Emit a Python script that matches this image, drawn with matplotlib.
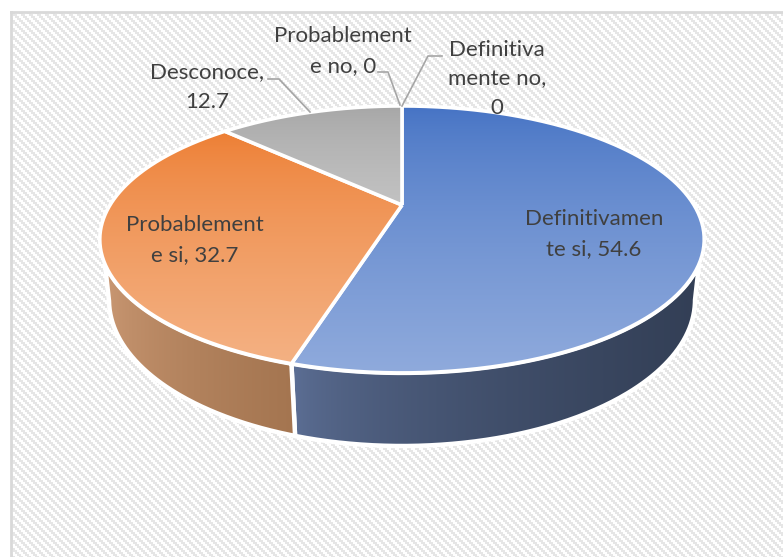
import matplotlib
matplotlib.use('Agg')
import matplotlib.pyplot as plt
import numpy as np
from matplotlib.patches import PathPatch
from matplotlib.path import Path
from matplotlib.colors import LinearSegmentedColormap

plt.rcParams['font.family'] = ['Lato', 'DejaVu Sans']

CATEGORIES = ['Definitivamente si', 'Probablemente si', 'Desconoce',
              'Probablemente no', 'Definitivamente no']
VALUES = [54.6, 32.7, 12.7, 0, 0]
LABELS = ['Definitivamen\nte si, 54.6', 'Probablement\ne si, 32.7',
          'Desconoce,\n12.7', 'Probablement\ne no, 0', 'Definitiva\nmente no,\n0']

W, H = 783, 557
CX, APEX_Y = 402, 205
TOP_COLORS = [('#4472C4', '#8FAADC'), ('#ED7D31', '#F4B183'), ('#A5A5A5', '#C2C2C2')]
SIDE_COLORS = [('#5F7299', '#333F56'), ('#CD9B76', '#A47550')]


def project(theta):
    # theta is clockwise from 12 o'clock, perspective squeezes the back of the pie
    u, v = np.sin(theta), np.cos(theta)
    d = 1 + 0.258 * v
    return CX + 292 * u / d, APEX_Y - 124.6 * v / d


def project_base(t):
    # lower rim of the pie wall
    return CX + 293 * np.sin(t), 300 - 146 * np.cos(t)


def gradient_fill(ax, verts, c0, c1, z, horizontal=False):
    cmap = LinearSegmentedColormap.from_list('g', [c0, c1])
    xs, ys = verts[:, 0], verts[:, 1]
    ext = (xs.min(), xs.max(), ys.max(), ys.min())
    g = np.linspace(0, 1, 256) ** (0.55 if horizontal else 0.7)
    g = g.reshape(1, -1) if horizontal else g.reshape(-1, 1)
    im = ax.imshow(g, cmap=cmap, extent=ext, aspect='auto', zorder=z, vmin=0, vmax=1)
    patch = PathPatch(Path(verts), transform=ax.transData, fc='none', ec='none')
    ax.add_patch(patch)
    im.set_clip_path(patch)
    ax.add_patch(PathPatch(Path(verts), fc='none', ec='white', lw=3.2 if horizontal else 2.6,
                           zorder=z + 0.5, joinstyle='miter'))


fig = plt.figure(figsize=(W / 100, H / 100), dpi=100)
ax = fig.add_axes([0, 0, 1, 1])
ax.axis('off')

# panel with the diagonal stripe fill
yy, xx = np.mgrid[0:H - 12, 0:W - 11]
stripes = ((xx // 2 - yy // 2) % 4 < 2).astype(float)
panel_cmap = LinearSegmentedColormap.from_list('p', ['#FFFFFF', '#E6E6E6'])
ax.imshow(stripes, cmap=panel_cmap, extent=(11, W, H, 12), aspect='auto',
          interpolation='nearest', zorder=1)
ax.plot([11, 11], [H, 12], color='#D9D9D9', lw=2, zorder=2)
ax.plot([11, W], [12, 12], color='#D9D9D9', lw=2, zorder=2)
ax.set_xlim(0, W)
ax.set_ylim(H, 0)

fracs = np.cumsum([0] + VALUES) / sum(VALUES) * 2 * np.pi

# side walls of the two front slices
wall_top = [(np.radians(115), fracs[1]), (fracs[1], np.radians(245))]
wall_base = [(np.radians(90), np.radians(201.4)), (np.radians(201.4), np.radians(270))]
for i, (c0, c1) in enumerate(SIDE_COLORS):
    tx, ty = project(np.linspace(*wall_top[i], 200))
    bx, by = project_base(np.linspace(*wall_base[i], 200))
    verts = np.column_stack([np.r_[tx, bx[::-1], tx[0]], np.r_[ty, by[::-1], ty[0]]])
    gradient_fill(ax, verts, c0, c1, 3 + i, horizontal=True)

# top faces
for i, (c0, c1) in enumerate(TOP_COLORS):
    t = np.linspace(fracs[i], fracs[i + 1], 200)
    tx, ty = project(t)
    verts = np.column_stack([np.r_[CX, tx, CX], np.r_[APEX_Y, ty, APEX_Y]])
    gradient_fill(ax, verts, c0, c1, 6 + i)

# leader lines
ax.plot([268, 279, 310], [79, 79, 112], color='#A6A6A6', lw=1.2, zorder=10)
ax.plot([378, 388, 400], [72, 72, 105], color='#A6A6A6', lw=1.2, zorder=10)
ax.plot([442, 428, 402], [56, 56, 106], color='#A6A6A6', lw=1.2, zorder=10)

LABEL_POS = [(594, 234), (195, 240), (207, 87), (343, 51), (497, 79)]
for label, (x, y) in zip(LABELS, LABEL_POS):
    ax.text(x, y, label, ha='center', va='center', fontsize=16, color='#404040',
            linespacing=1.58, zorder=11)

fig.savefig('out.png', dpi=100)
